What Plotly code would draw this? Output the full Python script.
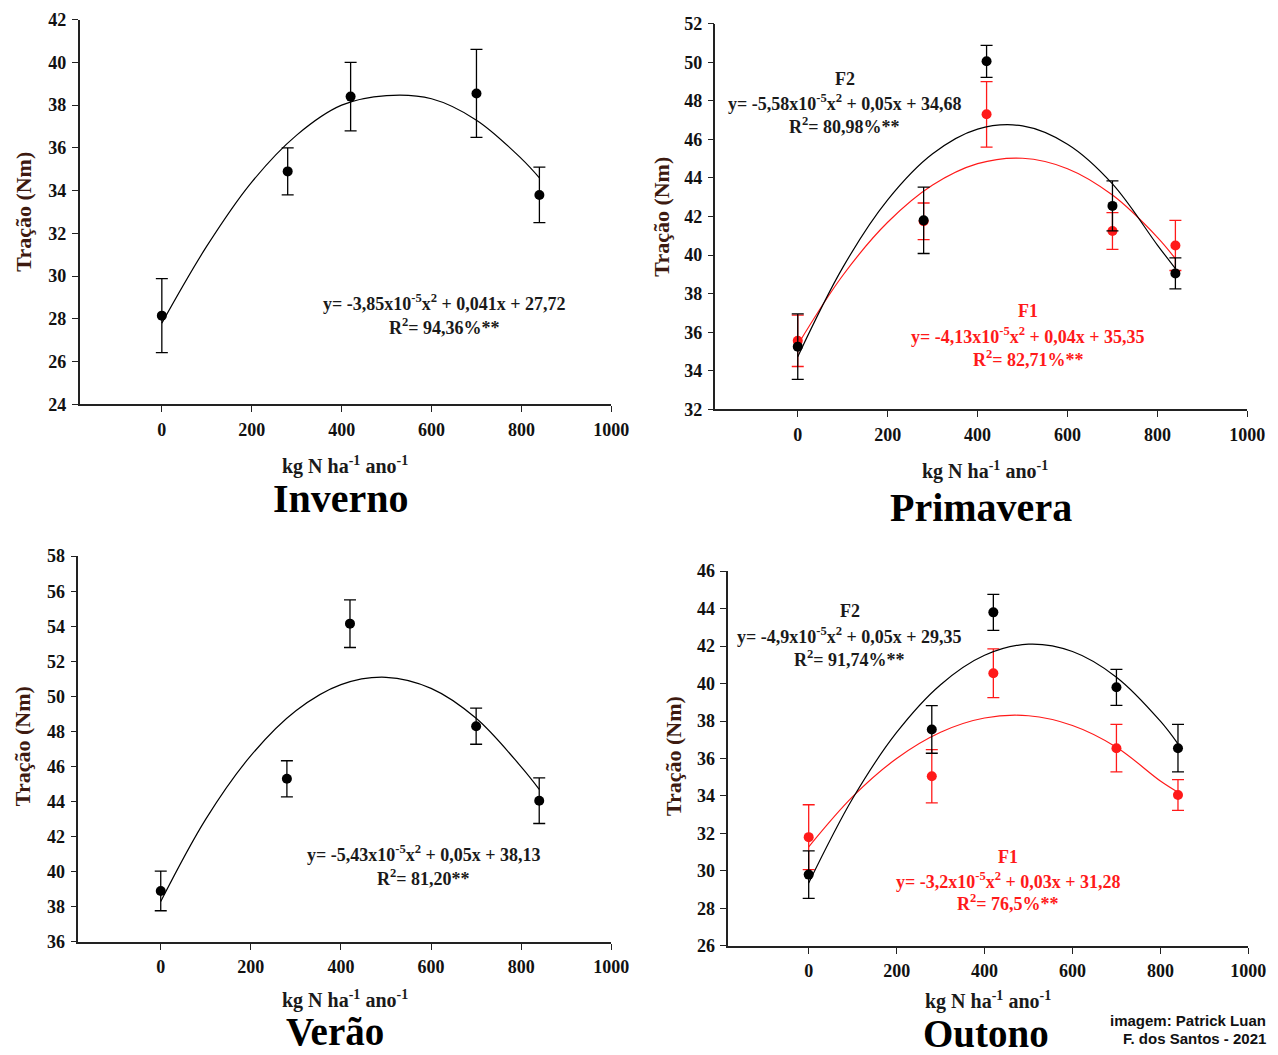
import plotly.graph_objects as go

W, H = 1278, 1055

# ---------------- data ----------------
doses = [0, 280, 420, 700, 840]
curve_x = [0, 100, 200, 300, 400, 500, 600, 700, 800, 840]

# Inverno
inv_y = [28.15, 34.9, 38.4, 38.55, 33.8]
inv_err = [1.73, 1.1, 1.6, 2.06, 1.3]
inv_curve = [27.8, 31.4, 34.4, 36.6, 38.0, 38.45, 38.3, 37.3, 35.5, 34.6]

# Primavera
pri_f2_y = [35.25, 41.8, 50.05, 42.55, 39.05]
pri_f2_err = [1.7, 1.72, 0.83, 1.3, 0.8]
pri_f1_y = [35.55, 41.75, 47.3, 41.25, 40.5]
pri_f1_err = [1.33, 0.95, 1.7, 0.95, 1.3]
pri_f2_curve = [34.73, 39.35, 42.86, 45.25, 46.53, 46.7, 45.75, 43.69, 40.52, 39.3]
pri_f1_curve = [35.35, 38.94, 41.7, 43.63, 44.74, 45.02, 44.48, 43.11, 40.92, 39.81]

# Verão
ver_y = [38.9, 45.3, 54.15, 48.3, 44.05]
ver_err = [1.13, 1.03, 1.36, 1.03, 1.3]
ver_curve = [38.3, 43.0, 46.62, 49.18, 50.67, 51.09, 50.46, 48.75, 45.98, 44.7]

# Outono
out_f2_y = [29.8, 37.55, 43.8, 39.8, 36.55]
out_f2_err = [1.27, 1.27, 0.96, 0.96, 1.27]
out_f1_y = [31.8, 35.05, 40.55, 36.55, 34.05]
out_f1_err = [1.73, 1.42, 1.3, 1.27, 0.82]
out_f2_curve = [29.35, 33.86, 37.39, 39.94, 41.51, 42.1, 41.71, 40.34, 37.99, 36.78]
out_f1_curve = [31.28, 33.96, 36.0, 37.4, 38.16, 38.28, 37.76, 36.6, 34.8, 34.2]

x_ticks = [0, 200, 400, 600, 800, 1000]

SERIF = "Liberation Serif, Times New Roman, serif"
RED = "#ff1a1a"
BLACK = "#000000"

fig = go.Figure()

# map target pixel positions (as seen in the final picture) to paper coords
AX, SX = 6.8, 0.989
AY, SY = 16.3, 0.982

def px_x(p):
    return ((p - AX) / SX) / W

def px_y(p):
    return 1 - ((p - AY) / SY) / H

panels = [
    dict(xd=(78.6, 612), yd=(18, 403), yr=(24, 42)),
    dict(xd=(716.5, 1250), yd=(22, 408), yr=(32, 52)),
    dict(xd=(77.3, 612), yd=(555, 941), yr=(36, 58)),
    dict(xd=(729.3, 1251), yd=(570, 945), yr=(26, 46)),
]

layout_axes = {}
for i, p in enumerate(panels, start=1):
    sx = "" if i == 1 else str(i)
    layout_axes["xaxis" + sx] = dict(
        domain=[px_x(p["xd"][0]), px_x(p["xd"][1])],
        range=[-183, 1000], anchor="y" + sx,
        tickmode="array", tickvals=x_ticks, ticktext=[str(v) for v in x_ticks],
        ticks="outside", ticklen=6, tickwidth=1, tickcolor="#222",
        showline=True, linecolor="#222", linewidth=1.5,
        showgrid=False, zeroline=False,
        tickfont=dict(family=SERIF, size=18, color="#111", weight="bold"),
        ticklabelstandoff=2,
    )
    layout_axes["yaxis" + sx] = dict(
        domain=[px_y(p["yd"][1]), px_y(p["yd"][0])],
        range=list(p["yr"]), anchor="x" + sx, dtick=2,
        ticks="outside", ticklen=6, tickwidth=1, tickcolor="#222",
        showline=True, linecolor="#222", linewidth=1.5,
        showgrid=False, zeroline=False,
        tickfont=dict(family=SERIF, size=18, color="#111", weight="bold"),
        ticklabelstandoff=2,
    )

def add_series(xa, ya, y, err, curve, color, lw=1.2):
    fig.add_trace(go.Scatter(
        x=curve_x, y=curve, mode="lines", xaxis=xa, yaxis=ya,
        line=dict(color=color, width=lw, shape="spline"),
        showlegend=False, hoverinfo="skip"))
    fig.add_trace(go.Scatter(
        x=doses, y=y, mode="markers", xaxis=xa, yaxis=ya,
        marker=dict(color=color, size=10),
        error_y=dict(type="data", array=err, color=color, thickness=1.3, width=6),
        showlegend=False))

add_series("x", "y", inv_y, inv_err, inv_curve, BLACK)
add_series("x2", "y2", pri_f1_y, pri_f1_err, pri_f1_curve, RED)
add_series("x2", "y2", pri_f2_y, pri_f2_err, pri_f2_curve, BLACK)
add_series("x3", "y3", ver_y, ver_err, ver_curve, BLACK)
add_series("x4", "y4", out_f1_y, out_f1_err, out_f1_curve, RED)
add_series("x4", "y4", out_f2_y, out_f2_err, out_f2_curve, BLACK)

annotations = []

def txt(x, y, text, size=16, color="#1a1a1a", family=SERIF, bold=True, angle=0, xanchor="center"):
    annotations.append(dict(
        x=px_x(x), y=px_y(y), xref="paper", yref="paper", text=text,
        showarrow=False, xanchor=xanchor, yanchor="middle", textangle=angle,
        font=dict(family=family, size=size, color=color, weight="bold" if bold else "normal")))

xlab = "kg N ha<sup>-1</sup> ano<sup>-1</sup>"
YT = "#3d1a10"
# y titles
txt(22, 210, "Tração (Nm)", size=22, color=YT, angle=-90)
txt(662, 215, "Tração (Nm)", size=22, color=YT, angle=-90)
txt(22, 745, "Tração (Nm)", size=22, color=YT, angle=-90)
txt(675, 755, "Tração (Nm)", size=22, color=YT, angle=-90)
# x titles
txt(345, 464, xlab, size=20)
txt(987, 469, xlab, size=20)
txt(345, 999, xlab, size=20)
txt(990, 1000, xlab, size=20)
# season titles
txt(341, 497, "Inverno", size=40, color="#000")
txt(983, 506, "Primavera", size=40, color="#000")
txt(335, 1031, "Verão", size=39, color="#000")
txt(988, 1033, "Outono", size=39, color="#000")

# equations
EQ = 18
txt(445, 301, "y= -3,85x10<sup>-5</sup>x<sup>2</sup> + 0,041x + 27,72", size=EQ)
txt(445, 325, "R<sup>2</sup>= 94,36%**", size=EQ)

txt(846, 77, "F2", size=EQ)
txt(846, 101, "y= -5,58x10<sup>-5</sup>x<sup>2</sup> + 0,05x + 34,68", size=EQ)
txt(846, 124, "R<sup>2</sup>= 80,98%**", size=EQ)
txt(1030, 310, "F1", size=EQ, color=RED)
txt(1030, 334, "y= -4,13x10<sup>-5</sup>x<sup>2</sup> + 0,04x + 35,35", size=EQ, color=RED)
txt(1030, 357, "R<sup>2</sup>= 82,71%**", size=EQ, color=RED)

txt(424, 853, "y= -5,43x10<sup>-5</sup>x<sup>2</sup> + 0,05x + 38,13", size=EQ)
txt(424, 877, "R<sup>2</sup>= 81,20**", size=EQ)

txt(851, 610, "F2", size=EQ)
txt(851, 634, "y= -4,9x10<sup>-5</sup>x<sup>2</sup> + 0,05x + 29,35", size=EQ)
txt(851, 657, "R<sup>2</sup>= 91,74%**", size=EQ)
txt(1010, 856, "F1", size=EQ, color=RED)
txt(1010, 880, "y= -3,2x10<sup>-5</sup>x<sup>2</sup> + 0,03x + 31,28", size=EQ, color=RED)
txt(1010, 902, "R<sup>2</sup>= 76,5%**", size=EQ, color=RED)

# credit
txt(1271, 1020, "imagem: Patrick Luan", size=15, color="#111",
    family="Liberation Sans, Arial, sans-serif", xanchor="right")
txt(1271, 1038, "F. dos Santos - 2021", size=15, color="#111",
    family="Liberation Sans, Arial, sans-serif", xanchor="right")

fig.update_layout(
    width=W, height=H, margin=dict(l=0, r=0, t=0, b=0),
    paper_bgcolor="white", plot_bgcolor="white",
    showlegend=False, annotations=annotations, **layout_axes,
)

fig.write_html("out.html")
